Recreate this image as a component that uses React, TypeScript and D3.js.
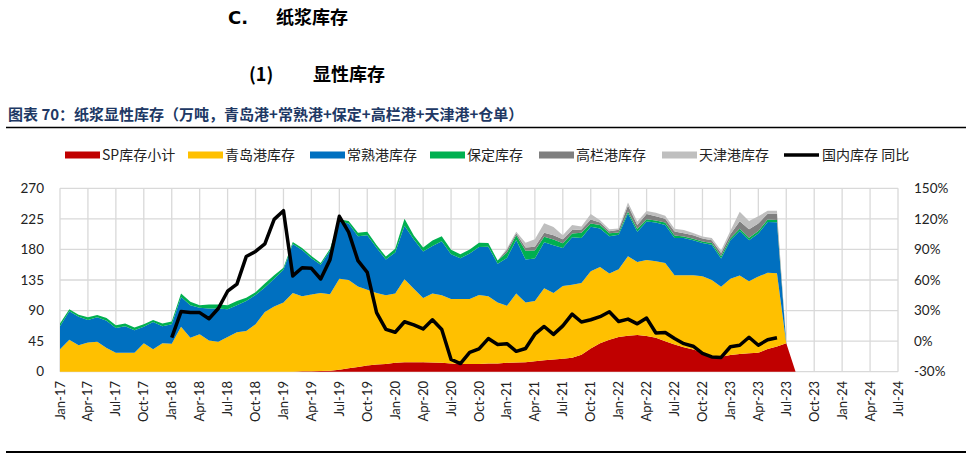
import React from "react";
import * as d3 from "d3";

// Months Jan-17 .. Aug-23 (80 categories)
const months: Date[] = d3.timeMonth.range(new Date(2017, 0, 1), new Date(2023, 8, 1));

// 万吨
const sp = [
  0, 0, 0, 0, 0, 0, 0, 0, 0, 0,
  0, 0, 0, 0, 0, 0, 0, 0, 0, 0,
  0, 0, 0, 0, 0, 0, 0.5, 0.5, 1, 1.5,
  3, 5, 7, 9, 10.5, 11.5, 13, 14, 14, 14,
  13.5, 13, 12, 11.5, 11.5, 11.5, 12, 12, 13, 13.5,
  14, 15.5, 17, 18, 19, 20.5, 25, 34, 42, 47,
  51, 53, 54, 52.5, 50, 45, 40, 36, 32.5, 28.5,
  24, 22, 24.5, 26, 27, 28, 33.5, 37, 42, 0,
];
const qingdao = [
  33, 47, 39, 43, 44, 35, 28, 28, 28, 42,
  33, 42, 41, 66, 50, 55, 46, 44, 51, 58,
  60, 70, 88, 96, 102, 116, 110.5, 113, 115, 112.5,
  134, 130, 118.5, 111.5, 105.5, 101, 102, 122, 108, 94.5,
  101.5, 99.5, 95, 95.5, 95.5, 101.5, 99, 90, 84, 101.5,
  88, 88.5, 106, 98, 107, 107.5, 105.5, 114, 112, 97.5,
  100, 117, 107.5, 112, 112.5, 115, 102, 106, 109.5, 112,
  111, 103, 112.5, 115.5, 106, 112, 112, 108, 0, 0,
];
const changshu = [
  34, 42, 42, 33, 36, 40, 36.5, 39, 33, 24,
  40, 25, 29, 44, 48, 39, 47, 49, 41, 40,
  44, 43, 36, 41, 48, 72, 68, 53.5, 41.5, 64,
  84, 83, 74, 80.5, 66.5, 52.5, 60.5, 79, 72.5, 68.5,
  70, 79.5, 66, 60, 67, 70.5, 73, 57, 70.5, 79,
  63, 62.5, 67.5, 70, 56, 70, 66.5, 65.5, 57, 55,
  50.5, 63, 44.5, 56.5, 57, 56, 55, 55, 51.5, 49,
  52, 41.5, 56.5, 65.5, 60.5, 63.5, 75, 75, 0, 0,
];
const baoding = [
  4, 3, 3, 4, 3.5, 4, 4, 4, 4, 4,
  3, 4, 4, 5, 5, 4, 6, 6, 6, 6,
  5, 4, 6, 5, 3, 3, 3, 3.5, 2.5, 3,
  3.5, 4, 5, 5, 4, 4.5, 5.5, 10, 6, 6,
  8, 7.5, 6.5, 6, 6, 6.5, 5.5, 4.7, 8, 7,
  13, 12, 8, 8.5, 7, 5.5, 7.5, 4.5, 5, 4.5,
  3.5, 3, 4, 3.5, 3, 3.5, 3.5, 2, 2.2, 2,
  2.5, 3.8, 3, 3.5, 3.8, 3.8, 3.5, 3.5, 0, 0,
];
const gaolan = [
  0, 0, 0, 0, 0, 0, 0, 0, 0, 0,
  0, 0, 0, 0, 0, 0, 0, 0, 0, 0,
  0, 0, 0, 0, 0, 0, 0, 0, 0, 0,
  0, 0, 0, 0, 0, 0, 0, 0, 0, 0,
  0, 0, 0, 0, 0, 0, 0, 0, 4, 3,
  5, 5.5, 6, 6.5, 6, 5, 4.8, 6, 3.5, 2.8,
  4, 8.5, 6, 7.5, 6.5, 5.5, 6, 5, 5, 4.5,
  4, 4.5, 6, 11, 12.5, 11, 8.5, 9, 0, 0,
];
const tianjin = [
  0, 0, 0, 0, 0, 0, 0, 0, 0, 0,
  0, 0, 0, 0, 0, 0, 0, 0, 0, 0,
  0, 0, 0, 0, 0, 0, 0, 0, 0, 0,
  0, 0, 0, 0, 0, 0, 0, 0, 0, 0,
  0, 0, 0, 0, 0, 0, 0, 0, 2, 2,
  7, 11, 14, 12, 6, 7.5, 4.4, 8, 3.5, 2.9,
  2, 4.5, 5, 4.5, 5, 4.5, 3.8, 4.5, 3.5, 3,
  3.5, 3.7, 5, 14, 12, 10.5, 4.5, 4.5, 0, 0,
];
// 国内库存 同比 (%), Jan-18 .. Jun-23
const yoyStartIndex = 12;
const yoy = [
  3.5, 29, 28, 28, 22, 32, 49, 56,
  83, 88, 95.5, 119.5, 128, 64, 72, 71.5, 61, 80,
  122.5, 107, 79, 67.5, 28, 11.5, 8.7, 19, 16, 12,
  21, 11.5, -18, -22, -11, -7.6, 2.5, -3.3, -2.5, -10,
  -7.2, 6.8, 14.4, 6.6, 15, 26.5, 18.8, 21, 24, 28.8,
  19.3, 21.6, 17, 22.6, 8, 8.5, 2.5, -2.5, -5, -12,
  -15.5, -16, -5.5, -4, 3.8, -4, 1.3, 3.3,
];

const xTickLabels = [
  "Jan-17", "Apr-17", "Jul-17", "Oct-17", "Jan-18", "Apr-18", "Jul-18", "Oct-18",
  "Jan-19", "Apr-19", "Jul-19", "Oct-19", "Jan-20", "Apr-20", "Jul-20", "Oct-20",
  "Jan-21", "Apr-21", "Jul-21", "Oct-21", "Jan-22", "Apr-22", "Jul-22", "Oct-22",
  "Jan-23", "Apr-23", "Jul-23", "Oct-23", "Jan-24", "Apr-24", "Jul-24",
];
const leftTicks = [0, 45, 90, 135, 180, 225, 270];
const rightTicks = [-30, 0, 30, 60, 90, 120, 150];

const seriesKeys = ["sp", "qingdao", "changshu", "baoding", "gaolan", "tianjin"];
const seriesNames = ["SP库存小计", "青岛港库存", "常熟港库存", "保定库存", "高栏港库存", "天津港库存"];
const seriesColors = ["#C00000", "#FFC000", "#0070C0", "#00B050", "#7F7F7F", "#BFBFBF"];
const lineName = "国内库存 同比";

const legendX = [65, 188, 310, 430, 539, 662, 784];

export default function App() {
  const W = 972;
  const H = 459;
  const left = 60, right = 898, top = 188.3, bottom = 371.7;
  const x = d3.scaleLinear().domain([0, 90]).range([left, right]);
  const y = d3.scaleLinear().domain([0, 270]).range([bottom, top]);
  const y2 = d3.scaleLinear().domain([-30, 150]).range([bottom, top]);

  const cols: Record<string, number[]> = { sp, qingdao, changshu, baoding, gaolan, tianjin };
  const rows = months.map((m, i) => {
    const r: any = { i, date: m };
    seriesKeys.forEach((k) => (r[k] = cols[k][i]));
    return r;
  });
  const stacked = d3.stack<any>().keys(seriesKeys)(rows);
  const area = d3
    .area<any>()
    .x((d) => x(d.data.i))
    .y0((d) => y(d[0]))
    .y1((d) => y(d[1]));

  const yoyPts: [number, number][] = yoy.map((v, k) => [yoyStartIndex + k, v]);
  const line = d3
    .line<[number, number]>()
    .x((d) => x(d[0]))
    .y((d) => y2(d[1]));

  const tickFont = "Lato, 'DejaVu Sans', sans-serif";
  const cjk = "'Noto Sans CJK SC', 'Noto Sans', sans-serif";

  return (
    <svg width={W} height={H} style={{ position: "absolute", left: 0, top: 0, background: "#fff" }}>
      {/* headings */}
      <text x={228} y={24} fontFamily={cjk} fontWeight={700} fontSize={18} fill="#000">
        <tspan fontFamily="'DejaVu Sans', sans-serif">C.</tspan>
        <tspan x={276}>纸浆库存</tspan>
      </text>
      <text x={249} y={81} fontFamily={cjk} fontWeight={700} fontSize={18} fill="#000">
        <tspan>(1)</tspan>
        <tspan x={313}>显性库存</tspan>
      </text>
      <text x={8} y={120} fontFamily={cjk} fontWeight={700} fontSize={15} fill="#203864">
        图表 70：纸浆显性库存（万吨，青岛港+常熟港+保定+高栏港+天津港+仓单）
      </text>
      <line x1={6} x2={966} y1={127.5} y2={127.5} stroke="#000" strokeWidth={1.5} />
      <line x1={6} x2={966} y1={452} y2={452} stroke="#000" strokeWidth={2} />

      {/* legend */}
      {seriesNames.map((n, k) => (
        <g key={n}>
          <rect x={legendX[k]} y={151.5} width={35} height={7} fill={seriesColors[k]} />
          <text x={legendX[k] + 37} y={160} fontFamily={cjk} fontSize={14} fill="#222">
            {n}
          </text>
        </g>
      ))}
      <line x1={legendX[6]} x2={legendX[6] + 35} y1={155} y2={155} stroke="#000" strokeWidth={3.5} />
      <text x={legendX[6] + 38} y={160} fontFamily={cjk} fontSize={14} fill="#222">
        {lineName}
      </text>

      {/* grid */}
      {leftTicks.map((t) => (
        <line key={"h" + t} x1={left} x2={right} y1={y(t)} y2={y(t)} stroke="#d9d9d9" strokeWidth={1.3} />
      ))}
      {xTickLabels.map((l, k) => (
        <line key={"v" + l} x1={x(k * 3)} x2={x(k * 3)} y1={top} y2={bottom} stroke="#d9d9d9" strokeWidth={1.3} />
      ))}

      {/* areas */}
      {stacked.map((s, k) => (
        <path key={seriesKeys[k]} d={area(s) || ""} fill={seriesColors[k]} />
      ))}

      {/* yoy line */}
      <path d={line(yoyPts) || ""} fill="none" stroke="#000" strokeWidth={3.5} strokeLinejoin="round" />

      {/* axes labels */}
      {leftTicks.map((t) => (
        <text key={"l" + t} x={44} y={y(t)} dy="0.35em" textAnchor="end" fontFamily={tickFont} fontSize={13.5} fill="#222">
          {t}
        </text>
      ))}
      {rightTicks.map((t) => (
        <text key={"r" + t} x={914} y={y2(t)} dy="0.35em" textAnchor="start" fontFamily={tickFont} fontSize={13.5} fill="#222">
          {t + "%"}
        </text>
      ))}
      {xTickLabels.map((l, k) => (
        <text
          key={"x" + l}
          transform={`translate(${x(k * 3)},381) rotate(-90)`}
          dy="0.35em"
          textAnchor="end"
          fontFamily={tickFont}
          fontSize={13}
          fill="#222"
        >
          {l}
        </text>
      ))}
    </svg>
  );
}
